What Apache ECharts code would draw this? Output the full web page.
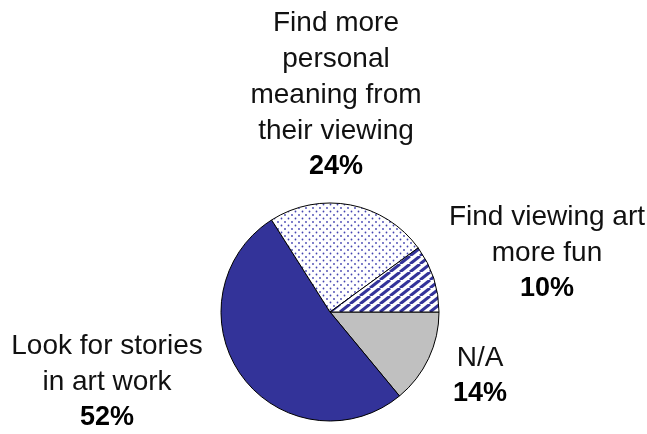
<!DOCTYPE html>
<html>
<head>
<meta charset="utf-8">
<title>Pie chart</title>
<script src="https://cdn.jsdelivr.net/npm/echarts@6/dist/echarts.min.js"></script>
<style>
  html, body { margin: 0; padding: 0; background: #ffffff; }
  #chart { width: 647px; height: 434px; }
</style>
</head>
<body>
<div id="chart"></div>
<script>
// Slices listed clockwise, starting at 3 o'clock
const categories = [
  'N/A',
  'Look for stories\nin art work',
  'Find more\npersonal\nmeaning from\ntheir viewing',
  'Find viewing art\nmore fun'
];
const percents = [14, 52, 24, 10];

// Label anchor points (centre of each text block)
const labelCenters = [
  [480, 376],
  [107, 382],
  [336, 95],
  [547, 253]
];

function dotPattern() {
  const c = document.createElement('canvas');
  c.width = 7; c.height = 7;
  const g = c.getContext('2d');
  g.fillStyle = '#ffffff';
  g.fillRect(0, 0, 7, 7);
  g.fillStyle = '#4444b0';
  g.beginPath(); g.arc(1.5, 1.5, 0.9, 0, Math.PI * 2); g.fill();
  g.beginPath(); g.arc(5, 5, 0.9, 0, Math.PI * 2); g.fill();
  return c;
}

function stripePattern() {
  const w = 10, h = 8;
  const c = document.createElement('canvas');
  c.width = w; c.height = h;
  const g = c.getContext('2d');
  g.fillStyle = '#ffffff';
  g.fillRect(0, 0, w, h);
  g.strokeStyle = '#333399';
  g.lineWidth = 3;
  for (let k = -1; k <= 1; k++) {
    g.beginPath();
    g.moveTo(k * w, h);
    g.lineTo(k * w + w, 0);
    g.stroke();
  }
  return c;
}

const fills = [
  '#c0c0c0',
  '#333399',
  { image: dotPattern(), repeat: 'repeat' },
  { image: stripePattern(), repeat: 'repeat' }
];

const chart = echarts.init(document.getElementById('chart'), null, { renderer: 'canvas' });

const FONT = 'Liberation Sans, Arial, sans-serif';

chart.setOption({
  backgroundColor: '#ffffff',
  animation: false,
  series: [{
    type: 'pie',
    center: [330, 312],
    radius: 109,
    startAngle: 0,
    clockwise: true,
    avoidLabelOverlap: false,
    silent: true,
    itemStyle: { borderColor: '#000000', borderWidth: 1 },
    label: {
      show: true,
      position: 'outside',
      formatter: p => '{n|' + p.name + '}\n{b|' + p.value + '%}',
      rich: {
        n: { fontFamily: FONT, fontSize: 28, color: '#111', lineHeight: 36, align: 'center' },
        b: { fontFamily: FONT, fontSize: 27, fontWeight: 'bold', color: '#000', lineHeight: 36, align: 'center' }
      }
    },
    labelLine: { show: false },
    labelLayout: params => ({
      x: labelCenters[params.dataIndex][0],
      y: labelCenters[params.dataIndex][1],
      align: 'center',
      verticalAlign: 'middle'
    }),
    emphasis: { disabled: true },
    data: categories.map((name, i) => ({
      name: name,
      value: percents[i],
      itemStyle: { color: fills[i] }
    }))
  }]
});
</script>
</body>
</html>
